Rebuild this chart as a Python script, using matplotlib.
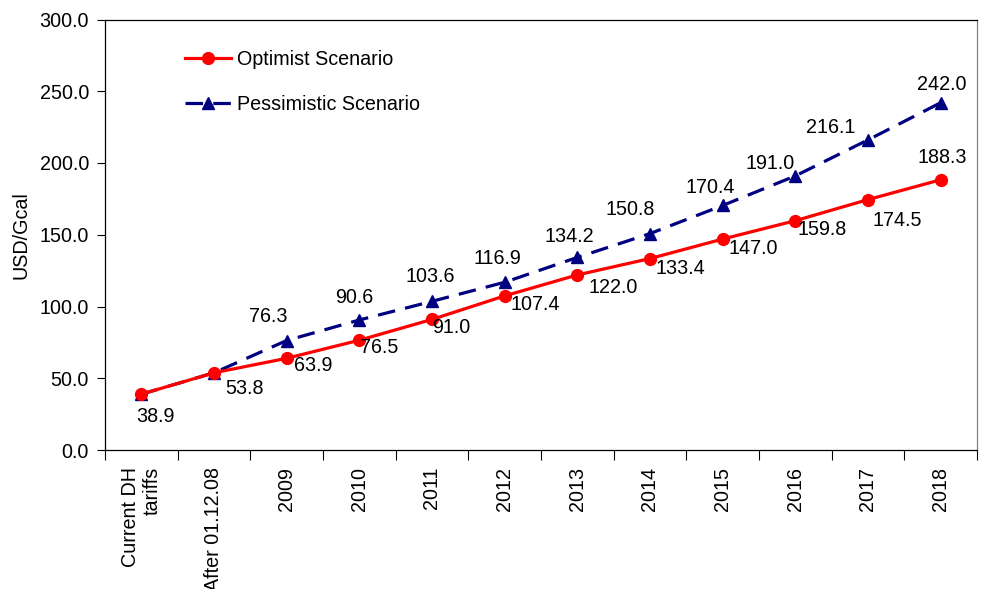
import matplotlib
matplotlib.use("Agg")
import matplotlib.pyplot as plt
from matplotlib.ticker import FixedLocator, FormatStrFormatter

plt.rcParams['font.family'] = ['Liberation Sans', 'DejaVu Sans']

categories = ["Current DH\ntariffs", "After 01.12.08", "2009", "2010", "2011", "2012",
              "2013", "2014", "2015", "2016", "2017", "2018"]
optimist = [38.9, 53.8, 63.9, 76.5, 91.0, 107.4, 122.0, 133.4, 147.0, 159.8, 174.5, 188.3]
pessimistic = [38.9, 53.8, 76.3, 90.6, 103.6, 116.9, 134.2, 150.8, 170.4, 191.0, 216.1, 242.0]
y_ticks = [0, 50, 100, 150, 200, 250, 300]

# label offsets in points (dx, dy) relative to each marker
opt_offsets = [(10, -16), (22, -11), (19, -5), (14, -5), (14, -6), (22, -6),
               (26, -9), (22, -7), (22, -7), (19, -6), (21, -15), (1, 16)]
pes_offsets = [None, None, (-13, 17), (-4, 16), (-1, 18), (-5, 17), (-6, 15),
               (-14, 17), (-9, 13), (-18, 9), (-27, 9), (1, 13)]

FS = 14.2
fig = plt.figure(figsize=(9.86, 5.89), dpi=100)
ax = fig.add_axes([105 / 986, 1 - 450 / 589, 872 / 986, (450 - 19.5) / 589])

x = list(range(len(categories)))
ax.plot(x, optimist, color='#FF0000', lw=2.3, marker='o', ms=8.5,
        label='Optimist Scenario', zorder=3)
ax.plot(x, pessimistic, color='#000080', lw=2.3, ls=(0, (5.5, 3.2)), marker='^', ms=9,
        label='Pessimistic Scenario', zorder=2)

for xi, v, off in zip(x, optimist, opt_offsets):
    ax.annotate(f"{v:.1f}", (xi, v), xytext=off, textcoords='offset points',
                ha='center', va='center', fontsize=FS)
for xi, v, off in zip(x, pessimistic, pes_offsets):
    if off is None:
        continue
    ax.annotate(f"{v:.1f}", (xi, v), xytext=off, textcoords='offset points',
                ha='center', va='center', fontsize=FS)

ax.set_xlim(-0.5, len(categories) - 0.5)
ax.set_ylim(0, 300)
ax.set_yticks(y_ticks)
ax.yaxis.set_major_formatter(FormatStrFormatter('%.1f'))
ax.tick_params(axis='y', direction='out', length=6, width=0.8, labelsize=FS, pad=5.5)

ax.set_xticks(x)
ax.set_xticklabels(categories, rotation=90, fontsize=FS, multialignment='right')
ax.xaxis.set_minor_locator(FixedLocator([i - 0.5 for i in range(len(categories) + 1)]))
ax.tick_params(axis='x', which='major', length=0, pad=12)
ax.tick_params(axis='x', which='minor', direction='out', length=7, width=0.8)

for side in ('left', 'bottom', 'top'):
    ax.spines[side].set_color('black')
    ax.spines[side].set_linewidth(0.9)
ax.spines['right'].set_color('#808080')
ax.spines['right'].set_linewidth(0.9)

ax.set_ylabel('USD/Gcal', fontsize=FS)
ax.yaxis.set_label_coords(-0.086, 0.5)

ax.legend(loc='upper left', bbox_to_anchor=(0.083, 0.947), frameon=False, fontsize=FS,
          handlelength=2.3, handletextpad=0.3, labelspacing=1.3, borderaxespad=0)

fig.savefig('out.png', dpi=100, facecolor='white')
